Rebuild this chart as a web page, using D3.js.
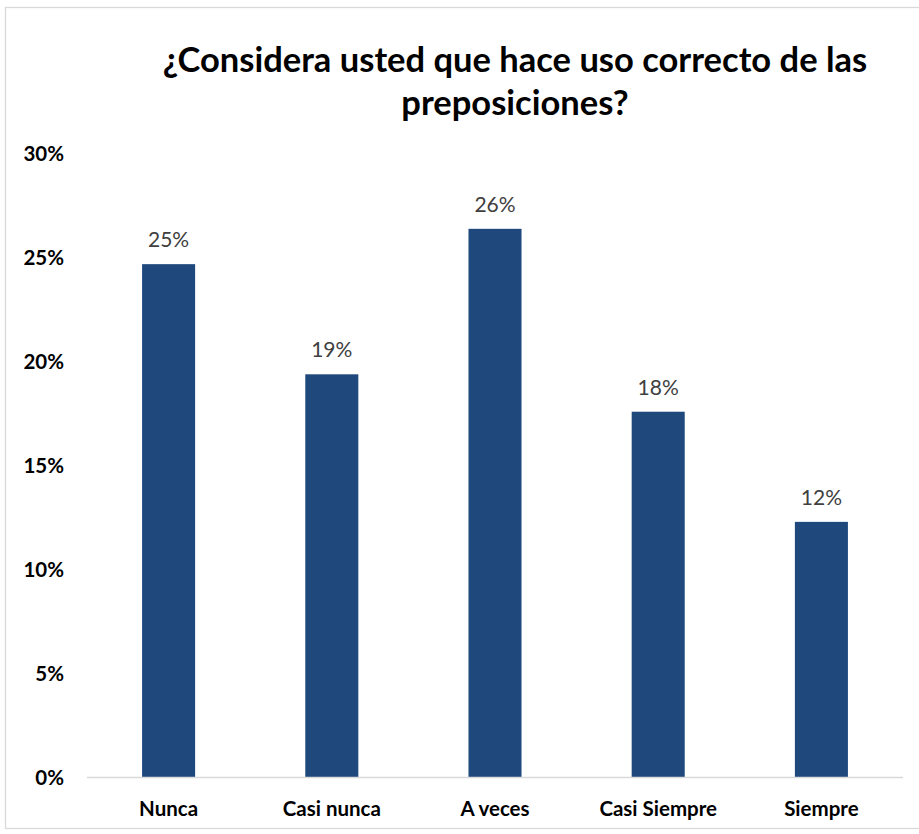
<!DOCTYPE html>
<html>
<head>
<meta charset="utf-8">
<script src="https://cdn.jsdelivr.net/npm/d3@7"></script>
<style>
  body { margin: 0; background: #fff; }
  svg { display: block; font-family: Lato, "Open Sans", sans-serif; }
</style>
</head>
<body>
<svg id="chart" width="919" height="834"></svg>
<script>
// Survey answers and their shares
const categories = ["Nunca", "Casi nunca", "A veces", "Casi Siempre", "Siempre"];
const shares = [0.247, 0.194, 0.264, 0.176, 0.123];
const yTicks = [0, 0.05, 0.10, 0.15, 0.20, 0.25, 0.30];
const titleLines = ["¿Considera usted que hace uso correcto de las", "preposiciones?"];

const svg = d3.select("#chart");
const W = 919, H = 834;
const plot = { left: 87, right: 903, top: 154, bottom: 777.5 };

// outer frame
svg.append("rect")
  .attr("x", 5.5).attr("y", 7.5)
  .attr("width", W + 10).attr("height", 821)
  .attr("fill", "#fff").attr("stroke", "#d9d9d9").attr("stroke-width", 1.3);

// title
svg.append("g").selectAll("text")
  .data(titleLines)
  .join("text")
  .attr("x", 515)
  .attr("y", (d, i) => 72 + i * 43)
  .attr("text-anchor", "middle")
  .attr("font-size", 34.5)
  .attr("font-weight", 700)
  .attr("fill", "#000")
  .text(d => d);

const x = d3.scaleBand()
  .domain(categories)
  .range([plot.left, plot.right])
  .paddingInner(0.675)
  .paddingOuter(0.3375);

const y = d3.scaleLinear()
  .domain([0, 0.30])
  .range([plot.bottom, plot.top]);

// y axis labels (no axis line)
const yAxis = d3.axisLeft(y)
  .tickValues(yTicks)
  .tickFormat(d3.format(".0%"))
  .tickSize(0)
  .tickPadding(0);
const gy = svg.append("g")
  .attr("transform", "translate(64,0)")
  .call(yAxis);
gy.select(".domain").remove();
gy.selectAll("text")
  .attr("font-family", "Lato, sans-serif")
  .attr("font-size", 20.5)
  .attr("font-weight", 700)
  .attr("fill", "#000");

// bars
const data = categories.map((c, i) => ({ c, v: shares[i] }));
svg.append("g").selectAll("rect")
  .data(data)
  .join("rect")
  .attr("x", d => x(d.c))
  .attr("width", x.bandwidth())
  .attr("y", d => y(d.v))
  .attr("height", d => y(0) - y(d.v))
  .attr("fill", "#1F497D");

// baseline
svg.append("line")
  .attr("x1", plot.left).attr("x2", plot.right)
  .attr("y1", plot.bottom).attr("y2", plot.bottom)
  .attr("stroke", "#d9d9d9").attr("stroke-width", 1.5);

// x axis category labels
const xAxis = d3.axisBottom(x).tickSize(0).tickPadding(0);
const gx = svg.append("g")
  .attr("transform", `translate(0,${plot.bottom})`)
  .call(xAxis);
gx.select(".domain").remove();
gx.selectAll("text")
  .attr("dy", null)
  .attr("y", 38)
  .attr("font-family", "Lato, sans-serif")
  .attr("font-size", 20.5)
  .attr("font-weight", 700)
  .attr("fill", "#000");

// value labels
const fmt = d3.format(".0%");
svg.append("g").selectAll("text")
  .data(data)
  .join("text")
  .attr("x", d => x(d.c) + x.bandwidth() / 2)
  .attr("y", d => y(d.v) - 17)
  .attr("text-anchor", "middle")
  .attr("font-size", 21)
  .attr("fill", "#404040")
  .text(d => fmt(d.v));
</script>
</body>
</html>
